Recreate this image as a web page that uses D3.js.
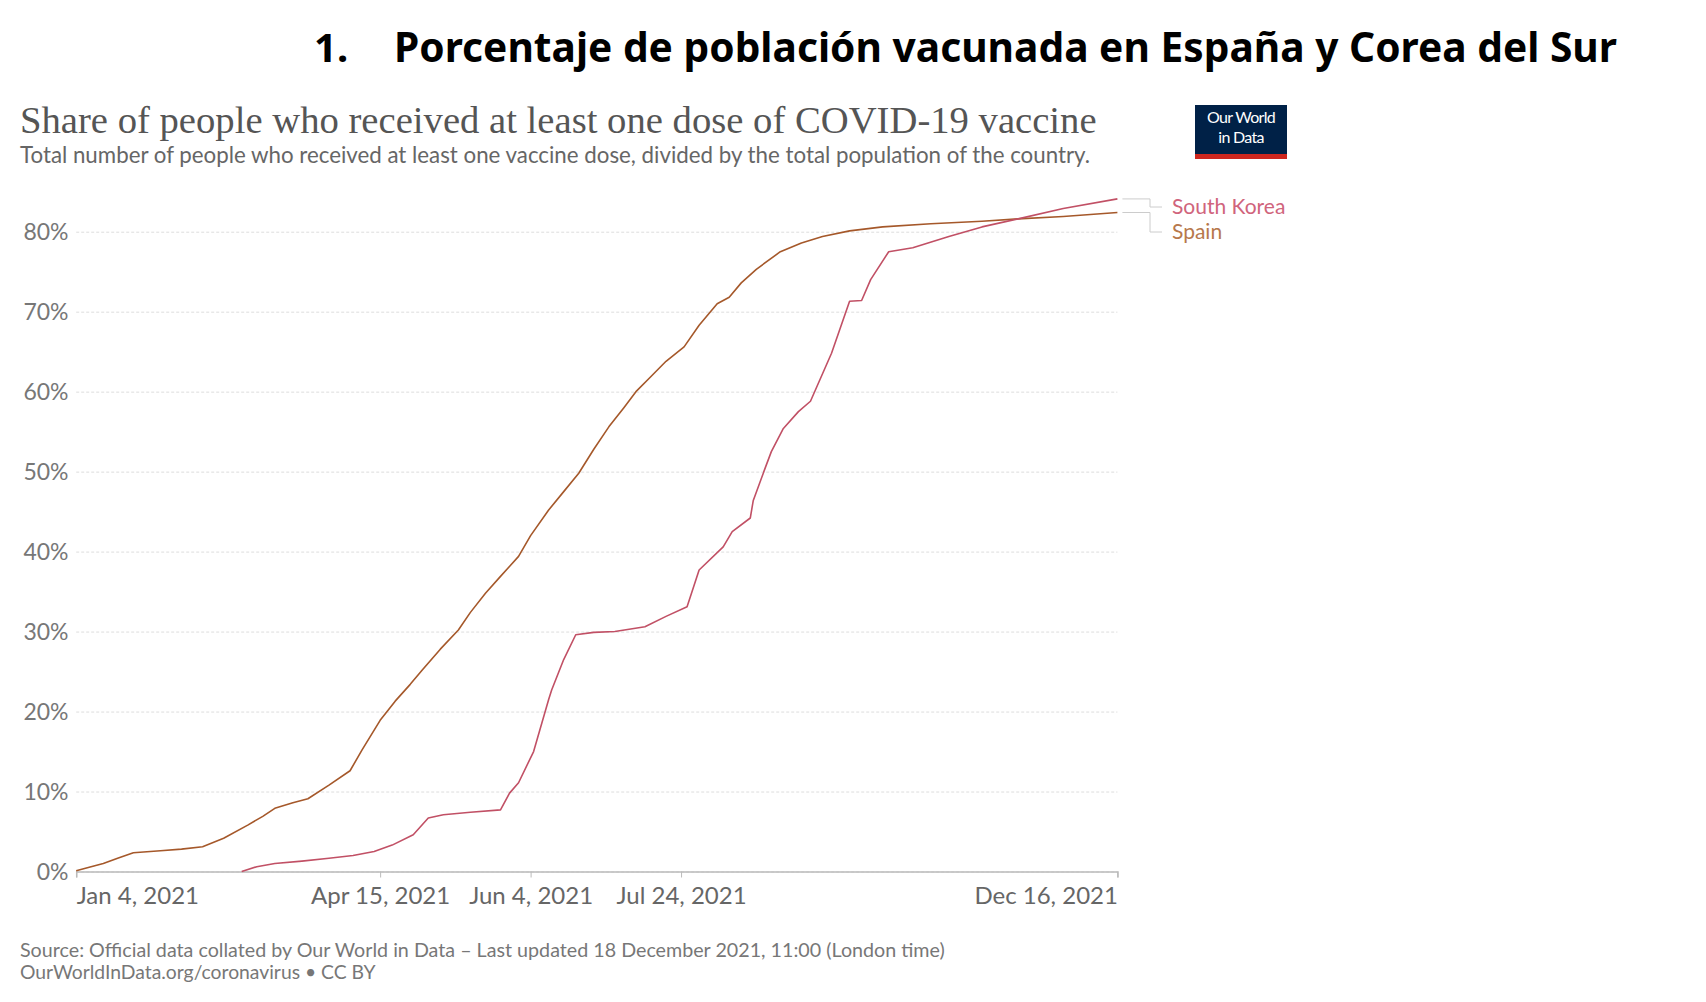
<!DOCTYPE html>
<html><head><meta charset="utf-8">
<script src="https://cdn.jsdelivr.net/npm/d3@7"></script>
<style>body{margin:0;background:#fff} svg{display:block}</style>
</head><body>
<svg id="c" width="1706" height="1002"></svg>
<script>
const headingNum = "1.";
const heading = "Porcentaje de población vacunada en España y Corea del Sur";
const title = "Share of people who received at least one dose of COVID-19 vaccine";
const subtitle = "Total number of people who received at least one vaccine dose, divided by the total population of the country.";
const sourceLines = [
  "Source: Official data collated by Our World in Data – Last updated 18 December 2021, 11:00 (London time)",
  "OurWorldInData.org/coronavirus • CC BY"
];
const logoLines = ["Our World", "in Data"];
const countries = ["South Korea", "Spain"];

const spainDates = ["2021-01-04","2021-01-08","2021-01-13","2021-01-18","2021-01-23","2021-02-01","2021-02-08","2021-02-15","2021-02-22","2021-03-02","2021-03-07","2021-03-11","2021-03-17","2021-03-22","2021-03-29","2021-04-05","2021-04-09","2021-04-15","2021-04-20","2021-04-25","2021-04-29","2021-05-05","2021-05-11","2021-05-15","2021-05-20","2021-05-25","2021-05-31","2021-06-04","2021-06-10","2021-06-15","2021-06-20","2021-06-25","2021-06-30","2021-07-05","2021-07-09","2021-07-14","2021-07-19","2021-07-25","2021-07-30","2021-08-05","2021-08-09","2021-08-13","2021-08-18","2021-08-26","2021-09-02","2021-09-09","2021-09-18","2021-09-29","2021-10-15","2021-11-01","2021-11-13","2021-11-28","2021-12-16"];
const spainValues = [0.1,0.5,1.0,1.7,2.35,2.6,2.8,3.1,4.15,5.8,6.9,7.9,8.6,9.1,10.8,12.6,15.2,18.9,21.3,23.4,25.2,27.8,30.2,32.4,34.8,36.9,39.4,42.0,45.2,47.5,49.8,52.8,55.6,58.0,60.0,61.9,63.8,65.6,68.3,71.0,71.8,73.6,75.3,77.5,78.6,79.4,80.1,80.6,81.0,81.3,81.6,81.9,82.4];

const koreaDates = ["2021-02-28","2021-03-05","2021-03-11","2021-03-20","2021-03-29","2021-04-06","2021-04-13","2021-04-19","2021-04-26","2021-05-01","2021-05-06","2021-05-15","2021-05-25","2021-05-28","2021-05-31","2021-06-05","2021-06-10","2021-06-11","2021-06-15","2021-06-19","2021-06-25","2021-07-02","2021-07-12","2021-07-19","2021-07-26","2021-07-30","2021-08-07","2021-08-10","2021-08-16","2021-08-17","2021-08-21","2021-08-23","2021-08-27","2021-09-01","2021-09-05","2021-09-12","2021-09-18","2021-09-22","2021-09-25","2021-10-01","2021-10-09","2021-10-21","2021-11-01","2021-11-13","2021-11-28","2021-12-16"];
const koreaValues = [0,0.6,1.0,1.3,1.65,2.0,2.5,3.3,4.6,6.7,7.1,7.4,7.7,9.8,11.1,15.0,21.5,22.7,26.5,29.6,29.9,30.0,30.6,31.9,33.1,37.7,40.6,42.5,44.2,46.4,50.5,52.5,55.4,57.5,58.8,64.8,71.3,71.4,74.0,77.5,78.0,79.4,80.6,81.6,82.9,84.1];

const xTickDates = ["2021-01-04","2021-04-15","2021-06-04","2021-07-24","2021-12-16"];
const yTickValues = [0,10,20,30,40,50,60,70,80];

const parse = d3.timeParse("%Y-%m-%d");
const svg = d3.select("#c");
const lineColors = {"South Korea":"#c15065","Spain":"#a5582a"};
const labelColors = {"South Korea":"#d0647c","Spain":"#b7784c"};

function fit(sel, target){
  const w = sel.node().getComputedTextLength();
  const fs = parseFloat(sel.attr("font-size"));
  sel.attr("font-size", fs * target / w);
  return sel;
}

// Heading
svg.append("text").attr("x",314).attr("y",62).attr("font-family","'Noto Sans'").attr("font-weight","bold")
  .attr("font-size",40).attr("fill","#000").text(headingNum);
const h = svg.append("text").attr("x",394).attr("y",62).attr("font-family","'Noto Sans'").attr("font-weight","bold")
  .attr("font-size",41).attr("fill","#000").text(heading);
h.attr("textLength",1223).attr("lengthAdjust","spacingAndGlyphs");

// Title & subtitle
const t = svg.append("text").attr("x",20).attr("y",133).attr("font-family","'Liberation Serif'")
  .attr("font-size",36).attr("fill","#555").text(title);
fit(t, 1077);
const st = svg.append("text").attr("x",20).attr("y",163).attr("font-family","Lato")
  .attr("font-size",17).attr("fill","#666").text(subtitle);
fit(st, 1071);

// Logo
const logo = svg.append("g");
logo.append("rect").attr("x",1195).attr("y",105).attr("width",92).attr("height",54).attr("fill","#002147");
logo.append("rect").attr("x",1195).attr("y",154).attr("width",92).attr("height",5).attr("fill","#ce261e");
logoLines.forEach((s,i)=>{
  logo.append("text").attr("x",1241).attr("y",123+i*20).attr("text-anchor","middle")
    .attr("font-family","Lato").attr("font-size",16).attr("letter-spacing",-0.7).attr("fill","#fff").text(s);
});

// Scales
const x = d3.scaleTime().domain([parse("2021-01-04"), parse("2021-12-16")]).range([76.2, 1117.4]);
const y = d3.scaleLinear().domain([0,80]).range([871.5, 231.7]);

// Grid + y axis
const gy = svg.append("g").attr("transform","translate(76.2,0)")
  .call(d3.axisLeft(y).tickValues(yTickValues).tickSize(-(1117.4-76.2)).tickPadding(8).tickFormat(d=>d+"%"));
gy.select(".domain").remove();
gy.selectAll(".tick line").attr("stroke","#ddd").attr("stroke-dasharray","3,2").attr("stroke-width",1);
gy.selectAll(".tick text").attr("font-family","Lato").attr("font-size",23).attr("fill","#777")
  .attr("x",-7.7).attr("dy","0.36em");

// X axis
const gx = svg.append("g").attr("transform","translate(0,871.5)")
  .call(d3.axisBottom(x).tickValues(xTickDates.map(parse)).tickSize(6).tickPadding(9)
    .tickFormat(d3.timeFormat("%b %-d, %Y")));
gx.select(".domain").attr("stroke","#bbb").attr("stroke-width",1.5);
gx.selectAll(".tick line").attr("stroke","#bbb");
gx.selectAll(".tick text").attr("font-family","Lato").attr("font-size",24).attr("fill","#666");
gx.selectAll(".tick text").filter((d,i)=>i===0).attr("text-anchor","start");
gx.selectAll(".tick text").filter((d,i)=>i===xTickDates.length-1).attr("text-anchor","end");

// Lines
const series = [
  {name:"Spain", values: spainDates.map((d,i)=>({date:parse(d), v:spainValues[i]}))},
  {name:"South Korea", values: koreaDates.map((d,i)=>({date:parse(d), v:koreaValues[i]}))}
];
const line = d3.line().x(d=>x(d.date)).y(d=>y(d.v));
svg.append("g").selectAll("path").data(series).join("path")
  .attr("d", d=>line(d.values)).attr("fill","none")
  .attr("stroke", d=>lineColors[d.name]).attr("stroke-width",1.6).attr("stroke-linejoin","round");

// Legend labels with connectors
const labelY = {"South Korea":214, "Spain":239};
countries.forEach(name=>{
  const s = series.find(q=>q.name===name);
  const last = s.values[s.values.length-1];
  const ly = y(last.v);
  const ty = labelY[name] - 7;
  svg.append("path").attr("d", `M${x(last.date)+5},${ly} H1150 V${ty} H1162`)
    .attr("fill","none").attr("stroke","#ccc").attr("stroke-width",1);
  svg.append("text").attr("x",1172).attr("y",labelY[name]).attr("font-family","Lato")
    .attr("font-size",21).attr("fill",labelColors[name]).text(name);
});

// Source
const sourceWidths = [925, 356];
sourceLines.forEach((s,i)=>{
  const st2 = svg.append("text").attr("x",20).attr("y",957+i*22).attr("font-family","Lato")
    .attr("font-size",15).attr("fill","#777").text(s);
  fit(st2, sourceWidths[i]);
});
</script>
</body></html>
